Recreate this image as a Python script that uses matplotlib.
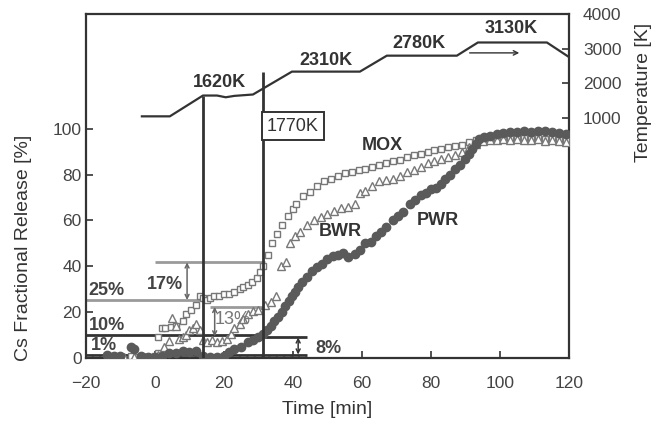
import matplotlib
matplotlib.use('Agg')
import matplotlib.pyplot as plt

plt.rcParams['font.family'] = ['Liberation Sans', 'DejaVu Sans']

# Cs fractional release [%] vs time [min]
mox_t = [-13, -10, -7, -5, -3, -1, 0, 1, 1, 2, 3, 4.5, 6, 8, 9, 10.5, 12, 13, 14, 15, 16, 17,
         18.5, 20, 21.5, 23, 24.5, 25.5, 27, 28, 29.5, 30.5, 31.3, 32.8, 33.9, 35.3, 36.8, 38.5,
         40, 41, 43, 45, 47, 49, 51, 53, 55, 57, 59, 61, 63, 65, 67, 69, 71, 73, 75, 77, 79, 81,
         83, 85, 87, 89, 91, 93, 95, 97, 99, 101, 103, 105, 107, 109, 111, 113, 115, 117, 119]
mox_y = [1, 0.5, 1, 0.5, 0.5, 0.3, 1, 2, 9, 13, 13, 13.5, 14, 16, 19, 21, 23, 27, 26, 25.5, 26, 27,
         27, 28, 28, 29, 30, 31, 32, 33, 35, 37.5, 40, 45, 50, 54, 58, 62,
         65, 67, 70.5, 72.5, 75, 77, 78, 79.5, 80.5, 81, 82, 82.5, 83.5, 84, 85, 86, 86.5, 87.5, 88.5,
         89, 90, 90.5, 91, 92, 92.5, 93, 94, 95, 95.5, 95.5, 96, 95.5, 96, 96, 96, 95.5, 96, 95.5,
         96, 95, 95]

bwr_t = [-12, -9, -6, -3, 0, 1, 2.5, 4, 5, 6, 7, 8, 9, 10, 11, 12, 13, 14, 15, 16.5, 18, 19.5, 21,
         22, 23, 24.5, 25.5, 27, 28.5, 30, 32, 33.5, 35, 36.5, 38, 39, 40.5, 42, 44, 46, 48, 50, 52,
         54, 56, 58, 59.5, 61, 63, 65, 67, 69, 71, 73, 75, 77, 79, 81, 83, 85, 87, 89, 91, 93, 95,
         97, 99, 101, 103, 105, 107, 109, 111, 113, 115, 117, 119]
bwr_y = [1, 0.5, 0.5, 0.3, 0.5, 1.5, 5, 7.5, 17.5, 14, 8.5, 9, 10, 12, 13, 15, 12, 8, 7, 8, 7, 7.5,
         8.5, 10.5, 13, 15, 17, 19, 20.5, 21, 23, 24.5, 27, 40, 42, 50, 53, 55, 58, 60, 61.5, 63, 64,
         65.5, 66, 67, 72, 73, 75, 77, 77.5, 78, 79.5, 81, 82, 83.5, 85, 86, 87, 87.5, 88.5, 90, 92,
         93.5, 94.5, 95, 95, 95.5, 95, 95.5, 95, 95, 95.5, 94.5, 95, 94.5, 94]

pwr_t = [-14, -12, -10, -7, -6, -4, -2, 0, 2, 4, 6, 8, 10, 12, 14, 16, 18, 20, 21.5, 23, 25, 27,
         28.5, 30, 31.3, 32.5, 33.5, 34.5, 35.6, 36.7, 37.7, 38.7, 39.7, 40.5, 41.4, 42.5, 44, 45.5,
         47, 48.5, 50, 51.5, 53, 54.5, 56, 58, 59.5, 61, 62.5, 64, 65.5, 67, 69, 70.5, 72, 74, 75.5,
         77, 78.5, 80, 81.5, 83, 84, 85.5, 87, 88.5, 90, 91, 92, 93, 94, 95.5, 97, 99, 101, 103, 105,
         107, 109, 111, 113, 115, 117, 119]
pwr_y = [1.5, 1, 1, 5, 4, 1, 0.5, 0.3, 1, 2, 2, 3, 2.5, 3, 1, 0.5, 0.5, 1, 2.5, 4, 5, 7,
         8, 9, 10.5, 12, 14, 16, 18, 20, 22.5, 25, 27, 29, 31, 33, 35.5, 38,
         39.5, 41, 43, 44.5, 45, 46, 44, 45.5, 47, 50, 50.5, 53, 55, 57, 60, 62, 63.5, 67, 69,
         71, 72, 73.5, 74, 76, 78, 80, 82.5, 84, 87, 89, 91, 93.5, 95.5, 96.5, 97, 97.5, 98, 98.5, 98.5,
         99, 98.5, 99, 99, 98.5, 98, 97.5]

# temperature history [K]
temp_t = [-3.8, 4.3, 13.9, 18, 20.5, 23, 28.4, 39.7, 59.4, 67.2, 87.5, 93.6, 113.6, 120]
temp_k = [1050, 1050, 1650, 1650, 1600, 1640, 1680, 2340, 2340, 2800, 2800, 3180, 3180, 2760]

dark = '#333333'
gray = '#9a9a9a'

fig = plt.figure(figsize=(6.54, 4.26), dpi=100)
ax = fig.add_axes([0.1315, 0.1596, 0.7385, 0.8074])
ax2 = ax.twinx()

ax.plot(mox_t, mox_y, 's', ms=4, mfc='white', mec='#777777', mew=1.0, zorder=3)
ax.plot(bwr_t, bwr_y, '^', ms=5.5, mfc='white', mec='#777777', mew=1.0, zorder=3)
ax.plot(pwr_t, pwr_y, 'o', ms=6, mfc='#5a5a5a', mec='#5a5a5a', zorder=3)

ax.set_xlim(-20, 120)
ax.set_ylim(0, 150)
ax.set_xticks([-20, 0, 20, 40, 60, 80, 100, 120])
ax.set_xticklabels(['\u221220', '0', '20', '40', '60', '80', '100', '120'])
ax.set_yticks([0, 20, 40, 60, 80, 100])
ax.set_xlabel('Time [min]', fontsize=14, color=dark, labelpad=7)
ax.set_ylabel('Cs Fractional Release [%]', fontsize=14, color=dark)
ax.yaxis.set_label_coords(-0.112, 0.32)
ax.tick_params(direction='in', length=5, width=1.2, labelsize=12.5, labelcolor='#444444',
               color=dark)
ax.tick_params(axis='x', pad=13)
ax.tick_params(axis='y', pad=3)
for s in ax.spines.values():
    s.set_linewidth(1.6)
    s.set_color(dark)

# step lines and percentages
ax.hlines(25.3, -20, 15.4, color=gray, lw=2)
ax.hlines(41.7, 0, 32, color=gray, lw=2)
ax.hlines(22.3, 16, 31.5, color=gray, lw=2)
ax.hlines(10.1, -20, 31.5, color=dark, lw=2)
ax.hlines(1.5, -20, 44, color=dark, lw=2)
ax.hlines(9.0, 27.5, 44, color=dark, lw=2)
ax.hlines(0.6, -20, 44, color='#bbbbbb', lw=1, linestyles='--')

arr = dict(arrowstyle='<->', color='#666666', lw=1.1, mutation_scale=7, shrinkA=0, shrinkB=0)
ax.annotate('', xy=(9.3, 25.3), xytext=(9.3, 41.7), arrowprops=arr)
ax.annotate('', xy=(17.3, 9.4), xytext=(17.3, 22.3), arrowprops=arr)
ax.annotate('', xy=(41.5, 1.5), xytext=(41.5, 9.0), arrowprops=dict(arr, color=dark))

pct = dict(fontsize=13, fontweight='bold', color='#444444')
ax.text(-19.2, 25.8, '25%', va='bottom', **pct)
ax.text(-19.2, 10.6, '10%', va='bottom', **pct)
ax.text(-18.5, 5.3, '1%', va='center', **pct)
ax.text(2.9, 32, '17%', ha='center', va='center', **pct)
ax.text(46.5, 4, '8%', va='center', **pct)
ax.text(22.6, 16.7, '13%', ha='center', va='center', fontsize=13, color='#777777')

ax.text(66, 92.7, 'MOX', ha='center', va='center', fontsize=13, fontweight='bold', color=dark)
ax.text(53.6, 55.3, 'BWR', ha='center', va='center', fontsize=13, fontweight='bold', color=dark)
ax.text(82, 60, 'PWR', ha='center', va='center', fontsize=13, fontweight='bold', color=dark)

# temperature axis
ax2.plot(temp_t, temp_k, color=dark, lw=1.6)
ax2.set_ylim(-5920, 4000)
ax2.set_yticks([1000, 2000, 3000, 4000])
ax2.set_ylabel('Temperature [K]', fontsize=14, color=dark)
ax2.yaxis.set_label_coords(1.137, 0.773)
ax2.tick_params(direction='in', length=5, width=1.2, labelsize=12.5, labelcolor='#444444',
                color=dark, pad=10)
for s in ax2.spines.values():
    s.set_visible(False)

ax2.vlines(13.8, -5920, 1650, color=dark, lw=2)
ax2.vlines(31.3, -5920, 2330, color=dark, lw=2)
ax2.annotate('', xy=(106.4, 2880), xytext=(90.4, 2880),
             arrowprops=dict(arrowstyle='->', color=dark, lw=1, mutation_scale=8))

tk = dict(fontsize=13, fontweight='bold', color=dark, ha='center', va='center')
ax2.text(18.8, 2030, '1620K', **tk)
ax2.text(49.6, 2670, '2310K', **tk)
ax2.text(76.5, 3150, '2780K', **tk)
ax2.text(103.2, 3570, '3130K', **tk)
ax2.text(32.5, 770, '1770K', fontsize=13, color=dark, ha='left', va='center',
         bbox=dict(boxstyle='square,pad=0.3', fc='white', ec=dark, lw=1.4))

fig.savefig('out.png', dpi=100)
